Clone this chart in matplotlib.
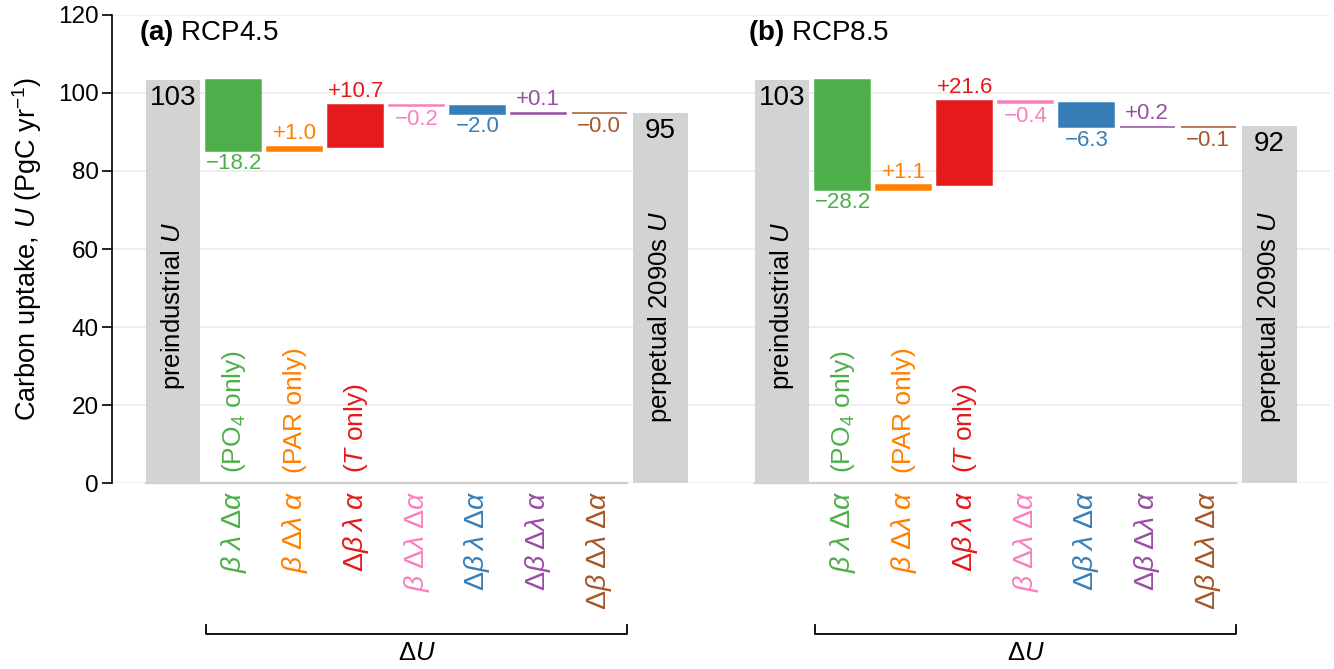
import matplotlib.pyplot as plt
import numpy as np

plt.rcParams["font.family"] = ["Liberation Sans", "DejaVu Sans"]
plt.rcParams["mathtext.fontset"] = "custom"
plt.rcParams["mathtext.rm"] = "Liberation Sans"
plt.rcParams["mathtext.it"] = "Liberation Sans:italic"
plt.rcParams["mathtext.bf"] = "Liberation Sans:bold"
plt.rcParams["font.size"] = 16

# --- data ---------------------------------------------------------------
panel_tags = ["(a)", "(b)"]
scenarios = ["RCP4.5", "RCP8.5"]
U_preindustrial = [103.4, 103.4]   # PgC/yr
U_2090s = [94.9, 91.6]             # perpetual 2090s
dU_rcp45 = [-18.2, 1.0, 10.7, -0.2, -2.0, 0.1, -0.04]
dU_rcp85 = [-28.2, 1.1, 21.6, -0.4, -6.3, 0.2, -0.1]

term_labels = [
    r"$\beta\;\lambda\;\Delta\alpha$",
    r"$\beta\;\Delta\lambda\;\alpha$",
    r"$\Delta\beta\;\lambda\;\alpha$",
    r"$\beta\;\Delta\lambda\;\Delta\alpha$",
    r"$\Delta\beta\;\lambda\;\Delta\alpha$",
    r"$\Delta\beta\;\Delta\lambda\;\alpha$",
    r"$\Delta\beta\;\Delta\lambda\;\Delta\alpha$",
]
term_notes = ["(PO$_4$ only)", "(PAR only)", "($T$ only)", "", "", "", ""]
term_colors = ["#4daf4a", "#ff7f00", "#e41a1c", "#f781bf",
               "#377eb8", "#984ea3", "#a65628"]
GREY = "#d3d3d3"
WIDTH = 0.9


def minus(s):
    return s.replace("-", "\u2212")


fig = plt.figure(figsize=(13.34, 6.69), dpi=100)
ax = fig.add_axes([0.084, 0.278, 0.913, 0.6996])

for i, (tag, name, u0, u1, dU) in enumerate(
        zip(panel_tags, scenarios, U_preindustrial, U_2090s,
            [dU_rcp45, dU_rcp85])):
    x0 = 10 * i
    dU = np.asarray(dU)
    xs = x0 + np.arange(1, len(dU) + 1)
    x_end = xs[-1] + 1

    # grey start / end bars
    ax.bar([x0, x_end], [u0, u1], width=WIDTH, color=GREY, zorder=2)
    ax.annotate(f"{u0:.0f}", (x0, u0), xytext=(0, -4),
                textcoords="offset points", ha="center", va="top",
                fontsize=20, zorder=5)
    ax.annotate(f"{u1:.0f}", (x_end, u1), xytext=(0, -4),
                textcoords="offset points", ha="center", va="top",
                fontsize=20, zorder=5)
    ax.text(x0, 67, r"preindustrial $U$", rotation=90,
            ha="center", va="top", fontsize=18.5, zorder=5)
    ax.text(x_end, 70, r"perpetual 2090s $U$", rotation=90,
            ha="center", va="top", fontsize=18.5, zorder=5)

    # waterfall of the decomposition terms
    levels = u0 + np.cumsum(dU)
    bottoms = levels - dU
    ax.plot([x0 - WIDTH / 2, xs[-1] + WIDTH / 2], [0, 0],
            color="#cdcdcd", lw=1.6, zorder=1.5, clip_on=False)
    ax.bar(xs, dU, bottom=bottoms, width=WIDTH, color=term_colors,
           edgecolor=term_colors, linewidth=1.1, zorder=3)

    for x, lvl, d, c, lab, note in zip(xs, levels, dU, term_colors,
                                       term_labels, term_notes):
        s = minus(f"{d:+.1f}")
        if d < 0:
            ax.annotate(s, (x, lvl), xytext=(0, -2),
                        textcoords="offset points",
                        ha="center", va="top", color=c)
        else:
            ax.annotate(s, (x, lvl), xytext=(0, 2),
                        textcoords="offset points",
                        ha="center", va="bottom", color=c)
        if note:
            ax.text(x, 2.5, note, rotation=90, ha="center", va="bottom",
                    fontsize=19, color=c)
        ax.text(x, -1.9, lab, rotation=90, ha="center", va="top", color=c,
                fontsize=20.5, clip_on=False)

    # bracket for Delta U
    bx0, bx1 = xs[0] - WIDTH / 2, xs[-1] + WIDTH / 2
    ax.plot([bx0, bx0, bx1, bx1], [-36.4, -38.7, -38.7, -36.4],
            color="black", lw=1.3, clip_on=False)
    ax.text((xs[0] + xs[-1]) / 2, -43.6, r"$\Delta U$",
            ha="center", va="center", fontsize=18.5, clip_on=False)

    ax.text(x0 - 0.56, 113.6, rf"$\mathbf{{{tag}}}$ {name}",
            ha="left", va="baseline", fontsize=20)

ax.set_xlim(-1, 19)
ax.set_ylim(0, 120)
ax.set_yticks(np.arange(0, 121, 20))
ax.set_xticks([])
ax.yaxis.grid(True, color="#ebebeb", lw=1.2)
ax.set_axisbelow(True)
for side in ["top", "right", "bottom"]:
    ax.spines[side].set_visible(False)
ax.spines["left"].set_linewidth(1.2)
ax.tick_params(axis="y", length=7, width=1.2, pad=2.5, labelsize=17.5)
ax.set_ylabel(r"Carbon uptake, $U$ (PgC yr$^{-1}$)", fontsize=19.5,
              labelpad=10)

fig.savefig("out.png", dpi=100)
